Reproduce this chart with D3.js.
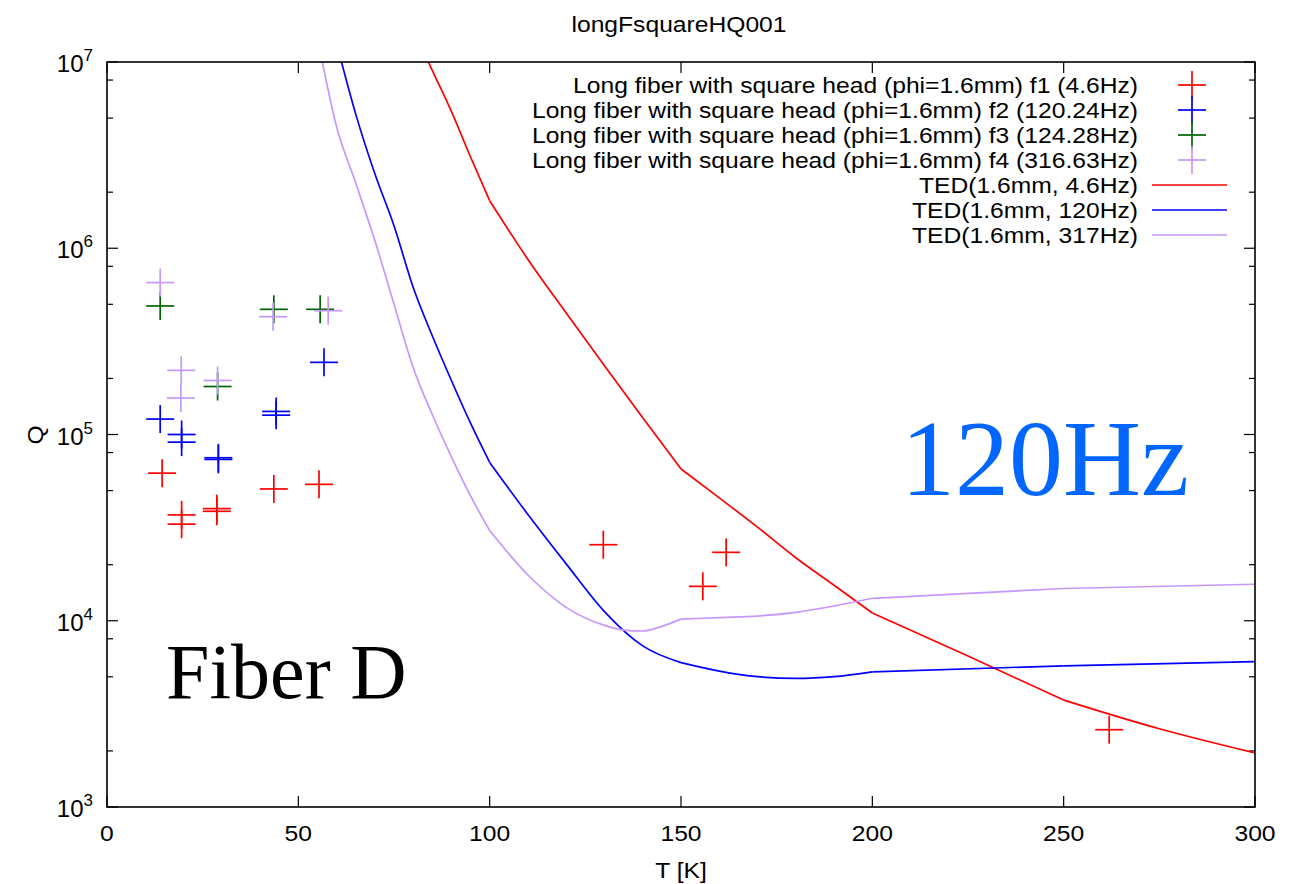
<!DOCTYPE html>
<html><head><meta charset="utf-8">
<script src="https://cdn.jsdelivr.net/npm/d3@7/dist/d3.min.js"></script>
<style>
body{margin:0;background:#fff;}
svg{display:block;}
.sans{font-family:"Liberation Sans",Arial,Helvetica,sans-serif;}
.serif{font-family:"Liberation Serif","Times New Roman",serif;}
</style></head>
<body>
<svg id="c" width="1309" height="884"></svg>
<script>
// ---------- data ----------
const title = "longFsquareHQ001";
const xTicks = [0, 50, 100, 150, 200, 250, 300];
const yTickExp = [3, 4, 5, 6, 7];
const yMinorMult = [2, 5, 8];

const f1T = [14.4, 19.5, 19.5, 28.7, 28.7, 43.6, 55.4, 129.7, 155.7, 161.8, 261.9];
const f1Q = [6.2e4, 3.7e4, 3.3e4, 4.0e4, 3.87e4, 5.1e4, 5.4e4, 2.56e4, 1.53e4, 2.33e4, 2.6e3];
const f2T = [13.9, 19.5, 19.5, 29.1, 29.1, 44.2, 44.2, 56.7];
const f2Q = [1.21e5, 1.0e5, 9.1e4, 7.5e4, 7.35e4, 1.33e5, 1.27e5, 2.44e5];
const f3T = [13.9, 28.9, 43.6, 55.7];
const f3Q = [4.9e5, 1.81e5, 4.7e5, 4.7e5];
const f4T = [13.9, 19.4, 19.3, 28.9, 43.4, 57.8];
const f4Q = [6.54e5, 2.21e5, 1.57e5, 1.95e5, 4.29e5, 4.62e5];

const ted46T = [80, 85, 90, 95, 100, 110, 120, 130, 140, 150, 160, 170, 180, 190, 200, 225, 250, 275, 300];
const ted46Q = [1.5e7, 9.02e6, 5.43e6, 3.09e6, 1.80e6, 8.71e5, 4.49e5, 2.34e5, 1.23e5, 6.53e4, 4.57e4, 3.18e4, 2.18e4, 1.55e4, 1.10e4, 6.46e3, 3.75e3, 2.63e3, 1.95e3];
const ted120T = [60, 65, 70, 75, 80, 85, 90, 95, 100, 110, 120, 130, 140, 150, 160, 170, 180, 190, 200, 250, 300];
const ted120Q = [1.26e7, 5.25e6, 2.51e6, 1.32e6, 6.17e5, 3.39e5, 1.95e5, 1.15e5, 7.08e4, 3.72e4, 2.02e4, 1.12e4, 7.33e3, 5.96e3, 5.37e3, 5.01e3, 4.90e3, 5.01e3, 5.32e3, 5.73e3, 6.03e3];
const ted317T = [55, 60, 65, 70, 75, 80, 85, 90, 95, 100, 110, 120, 130, 135, 140, 145, 150, 160, 170, 180, 190, 200, 250, 300];
const ted317Q = [1.36e7, 4.49e6, 2.24e6, 1.10e6, 5.01e5, 2.29e5, 1.28e5, 7.59e4, 4.68e4, 3.05e4, 1.76e4, 1.18e4, 9.44e3, 8.91e3, 8.81e3, 9.33e3, 1.02e4, 1.04e4, 1.06e4, 1.11e4, 1.20e4, 1.32e4, 1.49e4, 1.57e4];
// temperatures where the model curves have corners
const kinkT = [100, 150, 200, 250];

const pointSeries = [
  {label: "Long fiber with square head (phi=1.6mm) f1 (4.6Hz)", T: f1T, Q: f1Q, color: "#ff0000"},
  {label: "Long fiber with square head (phi=1.6mm) f2 (120.24Hz)", T: f2T, Q: f2Q, color: "#0000ff"},
  {label: "Long fiber with square head (phi=1.6mm) f3 (124.28Hz)", T: f3T, Q: f3Q, color: "#006400"},
  {label: "Long fiber with square head (phi=1.6mm) f4 (316.63Hz)", T: f4T, Q: f4Q, color: "#c597ff"}
];
const lineSeries = [
  {label: "TED(1.6mm, 4.6Hz)", T: ted46T, Q: ted46Q, color: "#ff0000"},
  {label: "TED(1.6mm, 120Hz)", T: ted120T, Q: ted120Q, color: "#0000ff"},
  {label: "TED(1.6mm, 317Hz)", T: ted317T, Q: ted317Q, color: "#c597ff"}
];

// ---------- layout ----------
const L = 107, R = 1255, Tp = 62, B = 807;
const FS = 22, STRETCH = 1.12;   // gnuplot text is slightly wide
const svg = d3.select("#c");
const x = d3.scaleLinear().domain([0, 300]).range([L, R]);
const y = d3.scaleLog().domain([1e3, 1e7]).range([B, Tp]);

function wideText(parent, tx, ty, anchor, str, fs) {
  const t = parent.append("text").attr("class", "sans").attr("x", tx).attr("y", ty)
    .attr("text-anchor", anchor).attr("font-size", fs || FS).text(str);
  const w = t.node().getComputedTextLength();
  t.attr("textLength", w * STRETCH).attr("lengthAdjust", "spacingAndGlyphs");
  return t;
}

svg.append("defs").append("clipPath").attr("id", "clip")
  .append("rect").attr("x", L).attr("y", Tp).attr("width", R - L).attr("height", B - Tp);

// title & labels
wideText(svg, 679, 32, "middle", title);
wideText(svg, 681, 878, "middle", "T [K]");
const qg = svg.append("g").attr("transform", "translate(43,435) rotate(-90)");
wideText(qg, 0, 0, "middle", "Q");

// axes (ticks inward, mirrored)
const tickLen = 11, minorLen = 6;
const gAx = svg.append("g").attr("stroke", "#000").attr("stroke-width", 1.2);
xTicks.forEach(v => {
  gAx.append("line").attr("x1", x(v)).attr("x2", x(v)).attr("y1", B).attr("y2", B - tickLen);
  gAx.append("line").attr("x1", x(v)).attr("x2", x(v)).attr("y1", Tp).attr("y2", Tp + tickLen);
  wideText(svg, x(v), 841, "middle", String(v));
});
yTickExp.forEach(e => {
  const v = Math.pow(10, e);
  gAx.append("line").attr("x1", L).attr("x2", L + tickLen).attr("y1", y(v)).attr("y2", y(v));
  gAx.append("line").attr("x1", R).attr("x2", R - tickLen).attr("y1", y(v)).attr("y2", y(v));
  if (e < 7) yMinorMult.forEach(m => {
    const mv = m * v;
    gAx.append("line").attr("x1", L).attr("x2", L + minorLen).attr("y1", y(mv)).attr("y2", y(mv));
    gAx.append("line").attr("x1", R).attr("x2", R - minorLen).attr("y1", y(mv)).attr("y2", y(mv));
  });
  const t = svg.append("text").attr("class", "sans").attr("x", 93).attr("y", y(v) + 10)
    .attr("text-anchor", "end").attr("font-size", 24);
  t.append("tspan").text("10");
  t.append("tspan").attr("dy", -11).attr("font-size", 17).text(e);
});

// plot area
const line = d3.line().x(d => x(d[0])).y(d => y(d[1])).curve(d3.curveMonotoneX);
const gPlot = svg.append("g").attr("clip-path", "url(#clip)");

const arm = 14;
function cross(g, cx, cy, color) {
  g.append("line").attr("x1", cx - arm).attr("x2", cx + arm).attr("y1", cy).attr("y2", cy)
    .attr("stroke", color).attr("stroke-width", 1.7);
  g.append("line").attr("x1", cx).attr("x2", cx).attr("y1", cy - arm).attr("y2", cy + arm)
    .attr("stroke", color).attr("stroke-width", 1.7);
}
pointSeries.forEach(s => {
  s.T.forEach((t, i) => cross(gPlot, x(t), y(s.Q[i]), s.color));
});
// model curves: smooth within each interval, with corners at kink temperatures
lineSeries.forEach(s => {
  const pts = s.T.map((t, i) => [t, s.Q[i]]);
  const bounds = [-Infinity].concat(kinkT, [Infinity]);
  for (let k = 0; k < bounds.length - 1; k++) {
    const seg = pts.filter(p => p[0] >= bounds[k] && p[0] <= bounds[k + 1]);
    if (seg.length < 2) continue;
    gPlot.append("path").datum(seg).attr("d", line)
      .attr("fill", "none").attr("stroke", s.color).attr("stroke-width", 1.7)
      .attr("stroke-linejoin", "round");
  }
});

// frame
svg.append("rect").attr("x", L).attr("y", Tp).attr("width", R - L).attr("height", B - Tp)
  .attr("fill", "none").attr("stroke", "#000").attr("stroke-width", 1.6);

// legend
const legY0 = 85, legDy = 25, legTextX = 1138;
const all = pointSeries.map(s => ({...s, kind: "pt"})).concat(lineSeries.map(s => ({...s, kind: "ln"})));
all.forEach((s, i) => {
  const yy = legY0 + i * legDy;
  wideText(svg, legTextX, yy + 8, "end", s.label);
  if (s.kind === "pt") cross(svg, 1192, yy, s.color);
  else svg.append("line").attr("x1", 1152).attr("x2", 1227).attr("y1", yy).attr("y2", yy)
    .attr("stroke", s.color).attr("stroke-width", 1.7);
});

// annotations
svg.append("text").attr("class", "serif").attr("x", 166).attr("y", 698)
  .attr("font-size", 78).attr("fill", "#000").text("Fiber D");
svg.append("text").attr("class", "serif").attr("x", 901).attr("y", 495)
  .attr("font-size", 108).attr("fill", "#0066ff").text("120Hz");
</script>
</body></html>
